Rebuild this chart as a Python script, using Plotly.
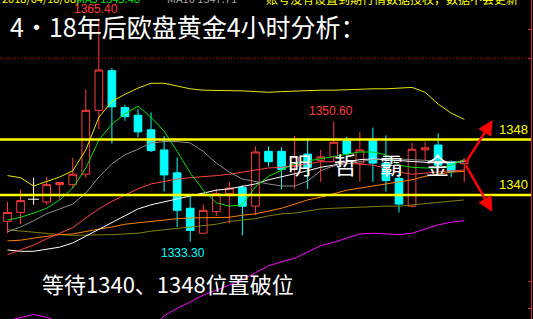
import plotly.graph_objects as go

# ---- 4-hour gold bars (oldest -> newest) ----
bar_open = [1336.2, 1337.5, 1339.4, 1339.0, 1341.5, 1341.5, 1343.0, 1352.2, 1357.9, 1352.6,
            1351.5, 1349.4, 1346.5, 1343.2, 1338.1, 1334.5, 1337.6, 1340.2, 1341.1, 1338.4,
            1346.3, 1346.3, 1344.1, 1345.9, 1345.0, 1345.5, 1347.8, 1344.6, 1347.8, 1344.6,
            1342.4, 1338.4, 1346.5, 1347.2, 1344.8, 1344.5]
bar_high = [1339.0, 1340.8, 1342.5, 1342.6, 1341.8, 1345.4, 1355.2, 1365.4, 1358.3, 1353.0,
            1352.4, 1351.9, 1348.5, 1345.4, 1339.8, 1338.6, 1340.9, 1341.9, 1341.4, 1347.0,
            1347.0, 1346.9, 1348.5, 1348.2, 1346.5, 1350.6, 1348.4, 1349.1, 1349.7, 1348.6,
            1343.3, 1347.5, 1347.7, 1348.9, 1345.0, 1345.3]
bar_low = [1334.5, 1335.8, 1338.6, 1338.6, 1339.3, 1341.0, 1342.5, 1349.5, 1347.4, 1350.7,
           1348.3, 1346.2, 1340.5, 1335.4, 1333.3, 1334.5, 1337.0, 1335.9, 1334.2, 1337.1,
           1344.1, 1340.8, 1340.9, 1340.9, 1341.9, 1344.8, 1345.0, 1341.9, 1341.9, 1340.5,
           1337.5, 1338.2, 1345.0, 1343.9, 1342.6, 1341.9]
bar_close = [1337.5, 1339.2, 1339.4, 1341.5, 1341.8, 1343.0, 1352.2, 1358.0, 1352.7, 1351.3,
             1349.1, 1346.4, 1342.9, 1337.8, 1334.9, 1337.8, 1340.2, 1341.0, 1338.4, 1346.2,
             1344.8, 1343.7, 1345.5, 1344.0, 1345.5, 1347.6, 1346.0, 1346.5, 1344.6, 1342.1,
             1338.7, 1346.6, 1346.8, 1344.3, 1343.4, 1345.0]

# ---- indicator overlays ----
band_upper = [1342.8, 1342.5, 1341.3, 1342.0, 1342.6, 1343.5, 1346.5, 1351.2, 1353.5, 1354.5,
              1355.4, 1356.1, 1356.1, 1355.7, 1355.3, 1355.1, 1355.1, 1355.1, 1355.0, 1354.9,
              1354.8, 1354.9, 1355.0, 1355.0, 1355.1, 1355.1, 1355.2, 1355.3, 1355.3, 1355.3,
              1355.4, 1355.5, 1354.8, 1353.1, 1351.8, 1350.9]
band_lower = [1321.9, 1322.4, 1322.8, 1322.4, 1321.7, 1320.9, 1319.1, 1317.0, 1316.3, 1317.0,
              1318.4, 1320.6, 1322.6, 1323.7, 1324.6, 1325.6, 1326.3, 1327.1, 1327.8, 1328.8,
              1329.8, 1330.4, 1330.9, 1331.8, 1332.7, 1333.2, 1333.8, 1334.4, 1334.5, 1334.4,
              1334.3, 1334.5, 1335.1, 1335.7, 1336.1, 1336.3]
ma_green = [1336.4, 1336.8, 1337.4, 1338.1, 1339.3, 1341.0, 1343.9, 1347.9, 1350.2, 1351.7,
            1352.8, 1351.2, 1349.2, 1346.3, 1343.2, 1340.7, 1338.9, 1338.4, 1338.6, 1341.2,
            1342.7, 1343.6, 1344.5, 1344.9, 1345.2, 1345.5, 1345.8, 1346.2, 1346.2, 1345.8,
            1344.3, 1344.0, 1343.9, 1343.9, 1344.3, 1345.1]
ma_gray = [1334.7, 1335.4, 1336.3, 1337.3, 1338.0, 1338.7, 1340.3, 1342.6, 1344.5, 1345.8,
           1346.6, 1347.5, 1347.7, 1347.7, 1347.5, 1346.3, 1344.6, 1343.3, 1342.3, 1341.9,
           1341.6, 1341.3, 1341.3, 1342.0, 1343.5, 1344.2, 1344.5, 1344.9, 1345.1, 1345.3,
           1345.2, 1345.1, 1345.0, 1344.8, 1344.8, 1344.8]
ma_red = [1331.4, 1332.1, 1332.8, 1333.7, 1334.5, 1335.3, 1336.7, 1338.0, 1339.1, 1340.0,
          1340.9, 1341.6, 1342.0, 1342.3, 1342.5, 1342.6, 1342.8, 1343.0, 1343.3, 1343.6,
          1343.9, 1344.0, 1344.2, 1344.5, 1344.8, 1344.8, 1344.6, 1344.5, 1344.3, 1343.9,
          1343.3, 1343.0, 1343.2, 1343.3, 1343.5, 1343.6]
ma_white = [1332.1, 1331.9, 1331.9, 1332.2, 1332.5, 1333.1, 1334.1, 1335.1, 1336.1, 1337.1,
            1338.0, 1338.6, 1339.0, 1339.4, 1339.9, 1340.3, 1340.7, 1340.9, 1341.2, 1341.6,
            1342.2, 1342.6, 1343.0, 1343.5, 1344.0, 1344.3, 1344.8, 1345.1, 1345.2, 1345.1,
            1344.9, 1344.9, 1344.8, 1344.6, 1344.7, 1344.8]
ma_orange = [1333.4, 1333.5, 1333.8, 1334.1, 1334.3, 1334.4, 1334.8, 1335.1, 1335.4, 1335.8,
             1336.0, 1336.2, 1336.5, 1336.6, 1336.7, 1336.7, 1336.8, 1336.8, 1337.1, 1337.3,
             1337.7, 1338.1, 1338.7, 1339.3, 1339.7, 1340.2, 1340.7, 1341.0, 1341.3, 1341.6,
             1341.9, 1342.2, 1342.7, 1343.0, 1343.3, 1343.4]
ma_olive = [1335.0, 1334.8, 1334.7, 1334.4, 1334.3, 1334.2, 1334.2, 1334.2, 1334.3, 1334.4,
            1334.5, 1334.8, 1335.0, 1335.1, 1335.3, 1335.5, 1335.8, 1336.2, 1336.4, 1336.6,
            1337.0, 1337.3, 1337.4, 1337.7, 1338.0, 1338.1, 1338.2, 1338.3, 1338.3, 1338.4,
            1338.4, 1338.6, 1338.8, 1339.0, 1339.1, 1339.3]

# ---- key levels / axis ----
levels = [1348, 1340]
dotted_level = 1359.7
axis_ticks = [1363.9, 1359.7, 1327.5, 1323.7]

title_text = "4·18年后欧盘黄金4小时分析："
bottom_text = "等待1340、1348位置破位"
mark_text = "明　哲　霸　金"
header_date = "2018/04/18/08)"
header_ma5 = "MA5 1345.46"
header_ma10 = "MA10 1347.71"
header_note = "账号没有设置到期行情数据授权，数据不会更新"

RED = "#FF3B3B"
CYAN = "#00FFFF"
W, H = 533, 319
AXIS_PX = 531
Y_RANGE = [1322.15, 1368.09]
X_RANGE = [-0.575, 40.115]

n = len(bar_open)
xs = list(range(n))
doji = [i for i in xs if bar_open[i] == bar_close[i]]
body = [i for i in xs if i not in doji]

fig = go.Figure()

fig.add_trace(go.Candlestick(
    x=body,
    open=[bar_open[i] for i in body],
    high=[bar_high[i] for i in body],
    low=[bar_low[i] for i in body],
    close=[bar_close[i] for i in body],
    increasing=dict(line=dict(color=RED, width=1), fillcolor="#000000"),
    decreasing=dict(line=dict(color=CYAN, width=1), fillcolor=CYAN),
    whiskerwidth=0,
    hoverinfo="skip",
))

# doji bars drawn as white crosses
dx, dy = [], []
for i in doji:
    dx += [i, i, None, i - 0.42, i + 0.42, None]
    dy += [bar_low[i], bar_high[i], None, bar_open[i], bar_open[i], None]
fig.add_trace(go.Scatter(x=dx, y=dy, mode="lines",
                         line=dict(color="#FFFFFF", width=1), hoverinfo="skip"))

overlays = [
    (band_lower, "#FF00FF"),
    (ma_olive, "#808000"),
    (ma_orange, "#FF8000"),
    (ma_white, "#FFFFFF"),
    (ma_red, "#FF4040"),
    (ma_gray, "#8C8C8C"),
    (band_upper, "#E6E600"),
    (ma_green, "#00E000"),
]
for ys, col in overlays:
    fig.add_trace(go.Scatter(x=xs, y=ys, mode="lines",
                             line=dict(color=col, width=1), hoverinfo="skip"))

shapes = []
for lv in levels:
    shapes.append(dict(type="line", xref="paper", yref="y", x0=0, x1=AXIS_PX / W,
                       y0=lv, y1=lv, line=dict(color="#FFFF00", width=2.5), layer="above"))
shapes.append(dict(type="line", xref="paper", yref="y", x0=0, x1=AXIS_PX / W,
                   y0=dotted_level, y1=dotted_level,
                   line=dict(color="#E00000", width=1, dash="1px,2px"), layer="above"))

annotations = []
for lv in levels:
    annotations.append(dict(text=f"{lv}", xref="paper", yref="y", x=(AXIS_PX - 1) / W, y=lv,
                            xanchor="right", yanchor="bottom", yshift=1, showarrow=False,
                            font=dict(family="Liberation Sans", size=13, color="#FFFF00")))

# extreme price labels
i_hi = bar_high.index(max(bar_high))
i_lo = bar_low.index(min(bar_low))
late = list(range(22, n))
i_hi2 = max(late, key=lambda i: bar_high[i])
for i, val, col, anchor, shift in [(i_hi, bar_high[i_hi], RED, "bottom", -3),
                                   (i_hi2, bar_high[i_hi2], RED, "bottom", -3),
                                   (i_lo, bar_low[i_lo], CYAN, "top", -7)]:
    annotations.append(dict(text=f"{val:.2f}", x=i, y=val, xref="x", yref="y",
                            xanchor="center", yanchor=anchor, xshift=shift,
                            yshift=(1 if anchor == "bottom" else -2), showarrow=False,
                            font=dict(family="Liberation Sans", size=12, color=col)))

# breakout arrows
apex = (35.06, 1344.5)
for tip in [(37.18, 1350.8), (37.15, 1337.6)]:
    annotations.append(dict(x=tip[0], y=tip[1], ax=apex[0], ay=apex[1],
                            xref="x", yref="y", axref="x", ayref="y", text="",
                            showarrow=True, arrowhead=2, arrowsize=1.2, arrowwidth=2.5,
                            arrowcolor="#FF0000"))

cjk = "Noto Sans CJK SC"
hdr = dict(xref="paper", yref="paper", y=1, yanchor="middle", yshift=2, showarrow=False)
annotations += [
    dict(text=title_text, xref="paper", yref="paper", x=8 / W, y=1 - 26 / H,
         xanchor="left", yanchor="middle", showarrow=False,
         font=dict(family=cjk, size=25, color="#FFFFFF")),
    dict(text=bottom_text, xref="paper", yref="paper", x=40 / W, y=1 - 283 / H,
         xanchor="left", yanchor="middle", showarrow=False,
         font=dict(family=cjk, size=22, color="#FFFFFF")),
    dict(text=mark_text, xref="paper", yref="paper", x=368 / W, y=1 - 164 / H,
         xanchor="center", yanchor="middle", showarrow=False,
         font=dict(family=cjk, size=23, color="#FFFFFF")),
    dict(text=header_date, x=0, xanchor="left",
         font=dict(family=cjk, size=11, color="#FFFF00"), **hdr),
    dict(text=header_ma5, x=74 / W, xanchor="left",
         font=dict(family=cjk, size=11, color="#00E000"), **hdr),
    dict(text=header_ma10, x=165 / W, xanchor="left",
         font=dict(family=cjk, size=11, color="#A0A0A0"), **hdr),
    dict(text=header_note, x=520 / W, xanchor="right",
         font=dict(family=cjk, size=12, color="#FFFF00"), **hdr),
]

fig.update_layout(
    width=W, height=H,
    margin=dict(l=0, r=0, t=0, b=0, pad=0),
    paper_bgcolor="#000000", plot_bgcolor="#000000",
    showlegend=False, boxgap=0.16,
    shapes=shapes, annotations=annotations,
    xaxis=dict(range=X_RANGE, domain=[0, AXIS_PX / W], visible=False,
               rangeslider=dict(visible=False), fixedrange=True),
    yaxis=dict(range=Y_RANGE, side="right", showline=True, linecolor="#C83232",
               linewidth=1, ticks="inside", ticklen=3, tickcolor="#C83232",
               tickvals=axis_ticks, showticklabels=False, showgrid=False,
               zeroline=False, fixedrange=True),
)

fig.write_html("out.html", config={"displayModeBar": False})
